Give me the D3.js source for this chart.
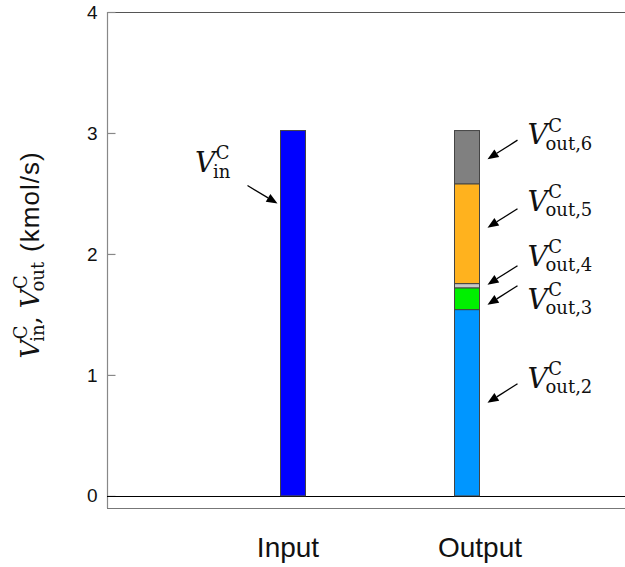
<!DOCTYPE html>
<html>
<head>
<meta charset="utf-8">
<script src="https://cdn.jsdelivr.net/npm/d3@7"></script>
<style>
  html, body { margin: 0; padding: 0; background: #fff; }
  svg { display: block; }
</style>
</head>
<body>
<svg id="chart" width="625" height="567"></svg>
<script>
// Carbon flow balance: one input stream vs. stacked output streams (kmol/s)
const categories = ["Input", "Output"];
const inputValue = [3.02];
const outputStreams = ["2", "3", "4", "5", "6"];
const outputValues = [1.54, 0.18, 0.035, 0.825, 0.44];
const yTicks = [0, 1, 2, 3, 4];

const inputColor = "#0000ff";
const streamColors = { "2": "#0096ff", "3": "#00f000", "4": "#c8c8c8", "5": "#ffb21e", "6": "#808080" };

const plotL = 107, plotR = 625, plotT = 12, plotB = 508;

const svg = d3.select("#chart");

const y = d3.scaleLinear().domain([-0.1, 4]).range([plotB, plotT]);
const x = d3.scalePoint().domain(categories).range([293, 467]);
const barW = 25;

const serif = "'DejaVu Serif', serif";
const sans = "'Liberation Sans', Arial, sans-serif";

// frame
svg.append("line").attr("x1", plotL).attr("x2", plotR).attr("y1", plotT + 0.5).attr("y2", plotT + 0.5)
  .attr("stroke", "#555").attr("stroke-width", 1.2);
svg.append("line").attr("x1", plotL).attr("x2", plotR).attr("y1", plotB + 0.5).attr("y2", plotB + 0.5)
  .attr("stroke", "#777").attr("stroke-width", 1.2);

// y axis
const yAxis = d3.axisLeft(y).tickValues(yTicks).tickFormat(d3.format("d")).tickSizeInner(-8).tickSizeOuter(0).tickPadding(10);
const gy = svg.append("g").attr("transform", `translate(${plotL + 0.5},0)`).call(yAxis);
gy.select(".domain").attr("stroke", "#888").attr("stroke-width", 1.2).attr("d", `M0,${plotT}V${plotB}`);
gy.selectAll(".tick line").attr("stroke", "#888").attr("stroke-width", 1.2);
gy.selectAll(".tick text").attr("font-family", sans).attr("font-size", 19).attr("fill", "#111");

// zero line
svg.append("line").attr("x1", plotL).attr("x2", plotR).attr("y1", Math.round(y(0)) + 0.5).attr("y2", Math.round(y(0)) + 0.5)
  .attr("stroke", "#000").attr("stroke-width", 1.2);

// input bar
const bars = svg.append("g");
bars.append("rect")
  .attr("x", x("Input") - barW / 2).attr("width", barW)
  .attr("y", y(inputValue[0])).attr("height", y(0) - y(inputValue[0]))
  .attr("fill", inputColor).attr("stroke", "#444").attr("stroke-width", 1);

// output stacked bar
const cum = d3.cumsum(outputValues);
const segments = outputStreams.map((s, i) => ({ key: s, y0: cum[i] - outputValues[i], y1: cum[i] }));
bars.selectAll("rect.seg").data(segments).join("rect").attr("class", "seg")
  .attr("x", x("Output") - barW / 2).attr("width", barW)
  .attr("y", d => y(d.y1)).attr("height", d => y(d.y0) - y(d.y1))
  .attr("fill", d => streamColors[d.key]).attr("stroke", "#444").attr("stroke-width", 1);

// category labels
svg.selectAll("text.cat").data(categories).join("text").attr("class", "cat")
  .attr("x", (d, i) => x(d) + (i === 0 ? -5 : 13)).attr("y", 557)
  .attr("text-anchor", "middle").attr("font-family", sans).attr("font-size", 28).attr("fill", "#111")
  .text(d => d);

// append V^sup_sub as tspans to a text element; returns the drop of the subscript
function mathTerm(t, base, sup, sub, bs, ss, lead = 0) {
  t.append("tspan").attr("font-family", serif).attr("font-style", "italic").attr("font-size", bs)
    .attr("dx", lead).text(base);
  const up = bs * 0.45, down = bs * 0.2;
  const sp = t.append("tspan").attr("font-family", serif).attr("font-size", ss).attr("dx", 0.5).attr("dy", -up).text(sup);
  const cw = sp.node().getComputedTextLength();
  t.append("tspan").attr("font-family", serif).attr("font-size", ss)
    .attr("dx", -(cw + 0.5) - bs * 0.08).attr("dy", up + down).text(sub);
  return down;
}

// arrow helper
function arrow(g, x1, y1, x2, y2) {
  const a = Math.atan2(y2 - y1, x2 - x1), L = 11, Wd = 4.5;
  const bx = x2 - L * Math.cos(a), by = y2 - L * Math.sin(a);
  g.append("line").attr("x1", x1).attr("y1", y1).attr("x2", bx).attr("y2", by)
    .attr("stroke", "#000").attr("stroke-width", 1.3);
  g.append("path").attr("d", `M${x2},${y2}L${bx - Wd * Math.sin(a)},${by + Wd * Math.cos(a)}L${bx + Wd * Math.sin(a)},${by - Wd * Math.cos(a)}Z`)
    .attr("fill", "#000");
}

const ann = svg.append("g");
// input annotation
{
  const tipX = x("Input") - barW / 2 - 3, tipY = y(inputValue[0]) + 73;
  arrow(ann, tipX - 30, tipY - 18, tipX, tipY);
  const t = ann.append("text").attr("x", 195).attr("y", 172).attr("fill", "#111");
  mathTerm(t, "V", "C", "in", 28, 18);
}
// output annotations: tip offset from segment middle (px), label vertical shift
const annLayout = { "6": [2, -2], "5": [-6, -4], "4": [-1, -6], "3": [6, 17], "2": [0, -2] };
segments.forEach(d => {
  const [off, dl] = annLayout[d.key];
  const tipX = x("Output") + barW / 2 + 8, tipY = (y(d.y0) + y(d.y1)) / 2 + off;
  arrow(ann, tipX + 30, tipY - 19, tipX, tipY);
  const t = ann.append("text").attr("x", tipX + 40).attr("y", tipY - 13 + dl).attr("fill", "#111");
  mathTerm(t, "V", "C", "out," + d.key, 28, 18);
});

// y-axis title (rotated)
{
  const t = svg.append("text").attr("transform", "translate(39,255) rotate(-90)")
    .attr("text-anchor", "middle").attr("fill", "#111");
  const d1 = mathTerm(t, "V", "C", "in", 26, 18);
  t.append("tspan").attr("font-family", serif).attr("font-size", 26).attr("dy", -d1).text(",");
  const d2 = mathTerm(t, "V", "C", "out", 26, 18, 8);
  t.append("tspan").attr("font-family", sans).attr("font-size", 26).attr("letter-spacing", 1)
    .attr("dx", 10).attr("dy", -d2).text("(kmol/s)");
}
</script>
</body>
</html>
